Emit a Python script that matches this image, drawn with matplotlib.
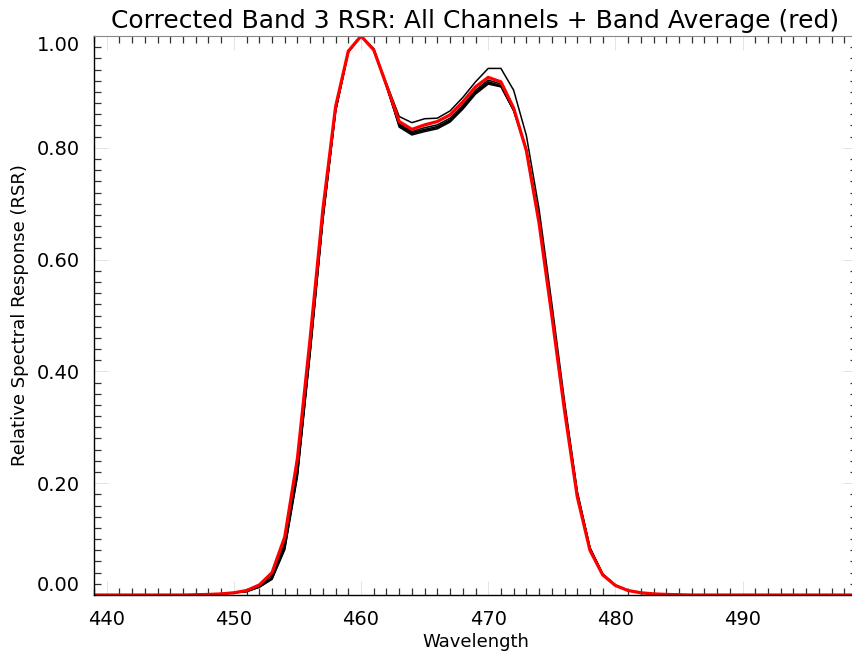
import matplotlib
matplotlib.use("Agg")
import matplotlib.pyplot as plt
from matplotlib.ticker import MultipleLocator

wavelength = list(range(439, 500))

band_average = [0.0, 0.0, 0.0, 0.0, 0.0, 0.0, 0.0, 0.0, 0.0005, 0.001,
                0.002, 0.004, 0.008, 0.018, 0.040, 0.104, 0.245, 0.46, 0.69, 0.874,
                0.973, 1.000, 0.975, 0.912, 0.847, 0.833, 0.841, 0.847, 0.859, 0.882,
                0.909, 0.926, 0.918, 0.871, 0.795, 0.665, 0.50, 0.33, 0.176, 0.080,
                0.036, 0.017, 0.008, 0.004, 0.002, 0.001, 0.0005, 0.0, 0.0, 0.0,
                0.0, 0.0, 0.0, 0.0, 0.0, 0.0, 0.0, 0.0, 0.0, 0.0, 0.0]

channel_1 = [0.0, 0.0, 0.0, 0.0, 0.0, 0.0, 0.0, 0.0, 0.0005, 0.001,
             0.002, 0.004, 0.007, 0.016, 0.035, 0.095, 0.232, 0.45, 0.683, 0.871,
             0.973, 1.000, 0.976, 0.915, 0.856, 0.845, 0.852, 0.853, 0.866, 0.890,
             0.918, 0.942, 0.942, 0.903, 0.822, 0.690, 0.522, 0.347, 0.186, 0.085,
             0.038, 0.018, 0.008, 0.004, 0.002, 0.001, 0.0005, 0.0, 0.0, 0.0,
             0.0, 0.0, 0.0, 0.0, 0.0, 0.0, 0.0, 0.0, 0.0, 0.0, 0.0]

channel_2 = [0.0, 0.0, 0.0, 0.0, 0.0, 0.0, 0.0, 0.0, 0.0005, 0.001,
             0.002, 0.004, 0.007, 0.015, 0.031, 0.088, 0.222, 0.442, 0.677, 0.868,
             0.972, 1.000, 0.976, 0.911, 0.843, 0.829, 0.836, 0.841, 0.853, 0.876,
             0.903, 0.921, 0.914, 0.869, 0.797, 0.671, 0.507, 0.337, 0.181, 0.083,
             0.037, 0.017, 0.008, 0.004, 0.002, 0.001, 0.0005, 0.0, 0.0, 0.0,
             0.0, 0.0, 0.0, 0.0, 0.0, 0.0, 0.0, 0.0, 0.0, 0.0, 0.0]

channel_3 = [0.0, 0.0, 0.0, 0.0, 0.0, 0.0, 0.0, 0.0, 0.0005, 0.001,
             0.002, 0.004, 0.007, 0.015, 0.030, 0.085, 0.218, 0.438, 0.674, 0.867,
             0.972, 1.000, 0.976, 0.910, 0.841, 0.827, 0.833, 0.838, 0.850, 0.873,
             0.900, 0.918, 0.911, 0.867, 0.796, 0.671, 0.506, 0.336, 0.181, 0.083,
             0.037, 0.017, 0.008, 0.004, 0.002, 0.001, 0.0005, 0.0, 0.0, 0.0,
             0.0, 0.0, 0.0, 0.0, 0.0, 0.0, 0.0, 0.0, 0.0, 0.0, 0.0]

channel_4 = [0.0, 0.0, 0.0, 0.0, 0.0, 0.0, 0.0, 0.0, 0.0005, 0.001,
             0.002, 0.004, 0.006, 0.014, 0.029, 0.083, 0.215, 0.435, 0.672, 0.866,
             0.971, 1.000, 0.977, 0.910, 0.839, 0.825, 0.831, 0.836, 0.848, 0.871,
             0.898, 0.916, 0.910, 0.866, 0.797, 0.672, 0.508, 0.338, 0.182, 0.084,
             0.037, 0.017, 0.008, 0.004, 0.002, 0.001, 0.0005, 0.0, 0.0, 0.0,
             0.0, 0.0, 0.0, 0.0, 0.0, 0.0, 0.0, 0.0, 0.0, 0.0, 0.0]

channel_5 = [0.0, 0.0, 0.0, 0.0, 0.0, 0.0, 0.0, 0.0, 0.0005, 0.001,
             0.002, 0.004, 0.006, 0.014, 0.028, 0.081, 0.212, 0.432, 0.670, 0.865,
             0.971, 1.000, 0.977, 0.911, 0.837, 0.823, 0.829, 0.834, 0.846, 0.869,
             0.896, 0.914, 0.909, 0.867, 0.798, 0.674, 0.510, 0.340, 0.183, 0.084,
             0.037, 0.017, 0.008, 0.004, 0.002, 0.001, 0.0005, 0.0, 0.0, 0.0,
             0.0, 0.0, 0.0, 0.0, 0.0, 0.0, 0.0, 0.0, 0.0, 0.0, 0.0]

channels = [channel_1, channel_2, channel_3, channel_4, channel_5]

x_ticks = [440, 450, 460, 470, 480, 490]
y_ticks = [0.0, 0.2, 0.4, 0.6, 0.8, 1.0]
y_tick_labels = ["0.00", "0.20", "0.40", "0.60", "0.80", "1.00"]

title = "Corrected Band 3 RSR: All Channels + Band Average (red)"
x_label = "Wavelength"
y_label = "Relative Spectral Response (RSR)"

plt.rcParams['font.family'] = ['DejaVu Sans']

fig = plt.figure(figsize=(8.52, 6.55), dpi=100)
W, H = 852, 655
ax = fig.add_axes([94 / W, (H - 595) / H, 763 / W, 559 / H])

for ch in channels:
    ax.plot(wavelength, ch, color='black', linewidth=1.1, solid_joinstyle='miter')
ax.plot(wavelength, band_average, color='#ff0000', linewidth=2.3, solid_joinstyle='miter')

ax.set_xlim(439, 499)
ax.set_ylim(0.0, 1.0)

ax.set_xticks(x_ticks)
ax.set_xticklabels([str(t) for t in x_ticks])
ax.set_yticks(y_ticks)
ax.set_yticklabels(y_tick_labels)
ax.xaxis.set_minor_locator(MultipleLocator(1))
ax.yaxis.set_minor_locator(MultipleLocator(0.02))

ax.tick_params(which='both', direction='in', top=True, right=True)
ax.tick_params(which='major', length=10, width=0.5, color='#d8d8d8', labelsize=14)
ax.tick_params(which='minor', length=5, width=0.9, color='#333333')
ax.tick_params(axis='x', which='major', pad=11)
ax.tick_params(axis='y', which='major', pad=10)

ylabels = ax.get_yticklabels()
ylabels[0].set_verticalalignment('bottom')
ylabels[-1].set_verticalalignment('top')

for s in ['left', 'bottom']:
    ax.spines[s].set_color('black')
    ax.spines[s].set_linewidth(1.0)
ax.spines['top'].set_color('#888888')
ax.spines['right'].set_color('#888888')

ax.set_title(title, fontsize=18, pad=6)
ax.set_xlabel(x_label, fontsize=13, labelpad=3)
ax.set_ylabel(y_label, fontsize=13, labelpad=6)

fig.savefig("out.png", dpi=100)
